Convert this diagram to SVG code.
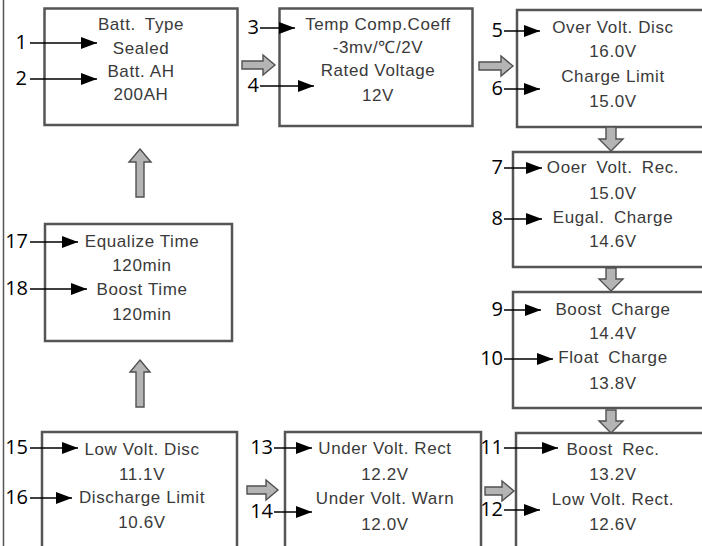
<svg xmlns="http://www.w3.org/2000/svg" width="702" height="546" viewBox="0 0 702 546">
<defs>
<marker id="ah" markerWidth="17" markerHeight="12" refX="16" refY="6" orient="auto" markerUnits="userSpaceOnUse">
<path d="M0,0 L16,6 L0,12 z" fill="#000"/>
</marker>
<style>
.box{fill:#fff;stroke:#555;stroke-width:2.5}
.t{font-family:"Liberation Sans",Arial,sans-serif;font-size:17px;letter-spacing:0.6px;fill:#3a3a3a;text-anchor:middle}
.w{word-spacing:4px}
.n{font-family:"Open Sans","Noto Sans",sans-serif;font-size:20px;fill:#000;text-anchor:end}
.lead{stroke:#000;stroke-width:1.3;fill:none;marker-end:url(#ah)}
.blk{fill:#b4b4b4;stroke:#505050;stroke-width:1.4;stroke-linejoin:miter}
</style>
</defs>
<rect width="702" height="546" fill="#fff"/>
<line x1="3.5" y1="0" x2="3.5" y2="546" stroke="#555" stroke-width="1.5"/>

<g id="node-batt-type">
<rect class="box" x="44.5" y="8.5" width="193" height="116.5"/>
<text class="t w" x="141" y="30">Batt. Type</text>
<text class="t" x="141" y="54">Sealed</text>
<text class="t" x="141" y="77">Batt. AH</text>
<text class="t" x="141" y="100">200AH</text>
</g>
<g id="node-temp-comp">
<rect class="box" x="279.5" y="8.5" width="193" height="117.5"/>
<text class="t" x="378" y="30">Temp Comp.Coeff</text>
<text class="t" x="378" y="53">-3mv/℃/2V</text>
<text class="t" x="378" y="76">Rated Voltage</text>
<text class="t" x="378" y="101">12V</text>
</g>
<g id="node-over-volt-disc">
<rect class="box" x="517" y="10" width="195" height="117"/>
<text class="t" x="613" y="33">Over Volt. Disc</text>
<text class="t" x="613" y="57">16.0V</text>
<text class="t" x="613" y="82">Charge Limit</text>
<text class="t" x="613" y="107">15.0V</text>
</g>
<g id="node-over-volt-rec">
<rect class="box" x="513" y="152" width="199" height="115"/>
<text class="t w" x="613" y="173">Ooer Volt. Rec.</text>
<text class="t" x="613" y="199">15.0V</text>
<text class="t w" x="613" y="223">Eugal. Charge</text>
<text class="t" x="613" y="247">14.6V</text>
</g>
<g id="node-boost-charge">
<rect class="box" x="513" y="292" width="199" height="116"/>
<text class="t w" x="613" y="315">Boost Charge</text>
<text class="t" x="613" y="339">14.4V</text>
<text class="t w" x="613" y="363">Float Charge</text>
<text class="t" x="613" y="389">13.8V</text>
</g>
<g id="node-boost-rec">
<rect class="box" x="516" y="433" width="196" height="130"/>
<text class="t w" x="613" y="455">Boost Rec.</text>
<text class="t" x="613" y="480">13.2V</text>
<text class="t" x="613" y="505">Low Volt. Rect.</text>
<text class="t" x="613" y="530">12.6V</text>
</g>
<g id="node-under-volt">
<rect class="box" x="285" y="432" width="196" height="130"/>
<text class="t" x="385" y="454">Under Volt. Rect</text>
<text class="t" x="385" y="480">12.2V</text>
<text class="t" x="385" y="504">Under Volt. Warn</text>
<text class="t" x="385" y="530">12.0V</text>
</g>
<g id="node-low-volt-disc">
<rect class="box" x="42" y="432" width="195" height="130"/>
<text class="t" x="142" y="455">Low Volt. Disc</text>
<text class="t" x="142" y="480">11.1V</text>
<text class="t" x="142" y="503">Discharge Limit</text>
<text class="t" x="142" y="528">10.6V</text>
</g>
<g id="node-equalize">
<rect class="box" x="45" y="224" width="187" height="117"/>
<text class="t" x="142" y="247">Equalize Time</text>
<text class="t" x="142" y="271">120min</text>
<text class="t" x="142" y="295">Boost Time</text>
<text class="t" x="142" y="320">120min</text>
</g>

<g id="connectors">
<polygon class="blk" points="242,61 263,61 263,55 275,65 263,75 263,69 242,69"/>
<polygon class="blk" points="479,62 501,62 501,56 513,66 501,76 501,70 479,70"/>
<polygon class="blk" points="606,127 616,127 616,139 623,139 611,151 599,139 606,139"/>
<polygon class="blk" points="606,268 616,268 616,279 623,279 611,291 599,279 606,279"/>
<polygon class="blk" points="606,410 616,410 616,421 623,421 611,433 599,421 606,421"/>
<polygon class="blk" points="485,487 502,487 502,481 514,491 502,501 502,495 485,495"/>
<polygon class="blk" points="247,486 266,486 266,480 278,490 266,500 266,494 247,494"/>
<polygon class="blk" points="140,360 150,372 144,372 144,407 136,407 136,372 130,372"/>
<polygon class="blk" points="140,149 151,162 144,162 144,197 136,197 136,162 129,162"/>

<line class="lead" x1="30" y1="43" x2="97" y2="43"/>
<line class="lead" x1="30" y1="79" x2="97" y2="79"/>
<line class="lead" x1="260" y1="28" x2="295" y2="28"/>
<line class="lead" x1="260" y1="86" x2="314" y2="86"/>
<line class="lead" x1="504" y1="31" x2="540" y2="31"/>
<line class="lead" x1="504" y1="89" x2="540" y2="89"/>
<line class="lead" x1="504" y1="168" x2="542" y2="168"/>
<line class="lead" x1="504" y1="219" x2="542" y2="219"/>
<line class="lead" x1="504" y1="310" x2="541" y2="310"/>
<line class="lead" x1="504" y1="359" x2="553" y2="359"/>
<line class="lead" x1="504" y1="448" x2="558" y2="448"/>
<line class="lead" x1="504" y1="510" x2="540" y2="510"/>
<line class="lead" x1="274" y1="448" x2="312" y2="448"/>
<line class="lead" x1="274" y1="512" x2="312" y2="512"/>
<line class="lead" x1="30" y1="448" x2="78" y2="448"/>
<line class="lead" x1="30" y1="498" x2="72" y2="498"/>
<line class="lead" x1="30" y1="242" x2="78" y2="242"/>
<line class="lead" x1="30" y1="289" x2="87" y2="289"/>
</g>

<g id="labels">
<text class="n" x="27" y="49">1</text>
<text class="n" x="27" y="85">2</text>
<text class="n" x="259" y="34">3</text>
<text class="n" x="259" y="92">4</text>
<text class="n" x="503" y="37">5</text>
<text class="n" x="503" y="95">6</text>
<text class="n" x="503" y="174">7</text>
<text class="n" x="503" y="225">8</text>
<text class="n" x="503" y="316">9</text>
<text class="n" x="503" y="365">10</text>
<text class="n" x="503" y="454">11</text>
<text class="n" x="503" y="516">12</text>
<text class="n" x="273" y="454">13</text>
<text class="n" x="273" y="518">14</text>
<text class="n" x="28" y="454">15</text>
<text class="n" x="28" y="504">16</text>
<text class="n" x="28" y="248">17</text>
<text class="n" x="28" y="295">18</text>
</g>
</svg>
